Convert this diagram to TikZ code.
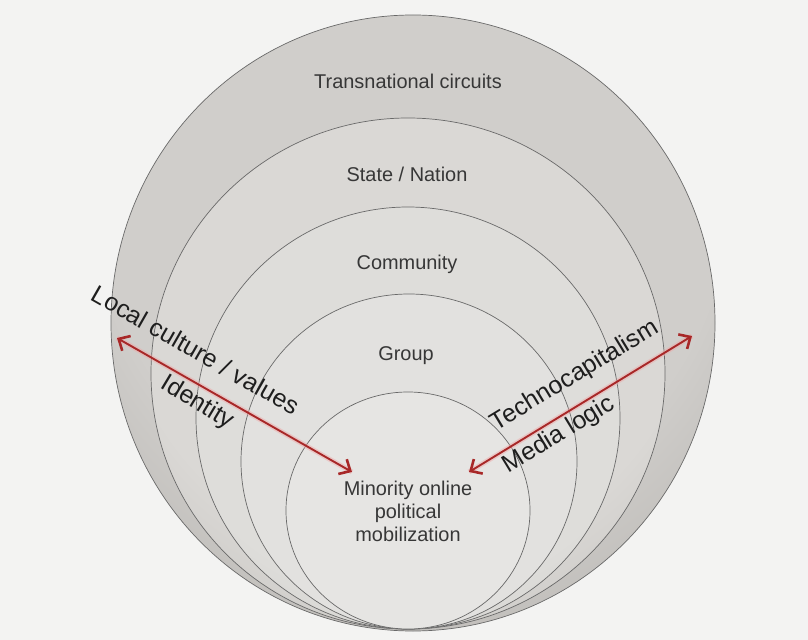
\documentclass[tikz,border=0pt]{standalone}
\usepackage{fontspec}
\setmainfont{Liberation Sans}
\usetikzlibrary{arrows.meta}
\definecolor{bgc}{RGB}{243,243,242}
\definecolor{o1}{RGB}{208,206,203}
\definecolor{o2}{RGB}{158,155,151}
\definecolor{s1}{RGB}{218,216,213}
\definecolor{s2}{RGB}{176,173,169}
\definecolor{c1}{RGB}{222,221,218}
\definecolor{c2}{RGB}{189,187,184}
\definecolor{g1}{RGB}{226,225,223}
\definecolor{g2}{RGB}{199,197,194}
\definecolor{n1}{RGB}{230,229,227}
\definecolor{n2}{RGB}{209,208,205}
\definecolor{linec}{RGB}{105,105,105}
\definecolor{txtc}{RGB}{55,55,55}
\definecolor{lblc}{RGB}{30,30,30}
\definecolor{arrc}{RGB}{168,40,40}
\definecolor{glowc}{RGB}{240,165,165}
\pgfdeclareradialshading{shO}{\pgfpoint{0bp}{22bp}}{color(0bp)=(o1);color(26bp)=(o1);color(50bp)=(o2)}
\pgfdeclareradialshading{shS}{\pgfpoint{0bp}{22bp}}{color(0bp)=(s1);color(28bp)=(s1);color(50bp)=(s2)}
\pgfdeclareradialshading{shC}{\pgfpoint{0bp}{22bp}}{color(0bp)=(c1);color(30bp)=(c1);color(50bp)=(c2)}
\pgfdeclareradialshading{shG}{\pgfpoint{0bp}{22bp}}{color(0bp)=(g1);color(32bp)=(g1);color(50bp)=(g2)}
\pgfdeclareradialshading{shN}{\pgfpoint{0bp}{22bp}}{color(0bp)=(n1);color(34bp)=(n1);color(50bp)=(n2)}
\tikzset{
  ring/.style={draw=linec, line width=0.7bp},
  inlbl/.style={text=txtc, font=\fontsize{20}{23}\selectfont, inner sep=0pt, align=center},
  rotlbl/.style={text=lblc, font=\fontsize{25}{30}\selectfont, inner sep=0pt},
  glow/.style={draw=glowc, opacity=0.45, line width=5bp},
  redarrow/.style={draw=arrc, line width=1.9bp, {Straight Barb[length=9bp,width=17bp,line width=2.6bp]}-{Straight Barb[length=9bp,width=17bp,line width=2.6bp]}}
}
\begin{document}
\begin{tikzpicture}[x=1bp, y=-1bp]
\useasboundingbox (0,0) rectangle (808,640);
\fill[bgc] (0,0) rectangle (808,640);
% rings
\coordinate (cO) at (413,323);
\coordinate (cS) at (408,373.5);
\coordinate (cC) at (408,418);
\coordinate (cG) at (409,461.5);
\coordinate (cN) at (408,510.5);
\shadedraw[ring, shading=shO] (cO) ellipse [x radius=302, y radius=308];
\shadedraw[ring, shading=shS] (cS) ellipse [x radius=257, y radius=255.5];
\shadedraw[ring, shading=shC] (cC) ellipse [x radius=212, y radius=211];
\shadedraw[ring, shading=shG] (cG) ellipse [x radius=168, y radius=167.5];
\shadedraw[ring, shading=shN] (cN) ellipse [x radius=122, y radius=118.5];
% ring labels
\node[inlbl] (tTrans) at (408,81) {Transnational circuits};
\node[inlbl] (tState) at (407,174) {State / Nation};
\node[inlbl] (tComm) at (407,264) {Community};
\node[inlbl] (tGroup) at (406,356) {Group};
\node[inlbl] (tMin) at (408,511) {Minority online\\political\\mobilization};
% arrow end points
\coordinate (aL) at (117,338);
\coordinate (aLin) at (352,472);
\coordinate (aR) at (692,336);
\coordinate (aRin) at (469,472);
\draw[glow] (aL) -- (aLin);
\draw[glow] (aR) -- (aRin);
\draw[redarrow] (aL) -- (aLin);
\draw[redarrow] (aRin) -- (aR);
% arrow labels
\node[rotlbl, rotate=-29.7] (tLocal) at (196,350) {Local culture / values};
\node[rotlbl, rotate=-31] (tIdent) at (197,403) {Identity};
\node[rotlbl, rotate=31.3] (tTech) at (575,376) {Technocapitalism};
\node[rotlbl, rotate=31.3] (tMedia) at (559,435) {Media logic};
\end{tikzpicture}
\end{document}
